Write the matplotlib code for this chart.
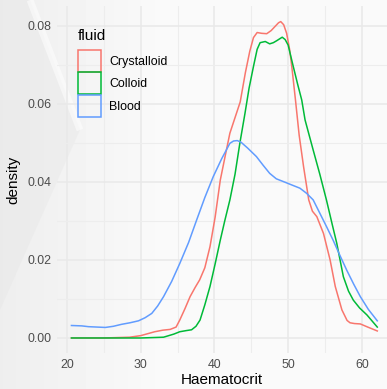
import numpy as np
import matplotlib.pyplot as plt
from matplotlib.patches import Patch, Polygon

plt.rcParams['font.family'] = ['Liberation Sans', 'DejaVu Sans']

# density curves (Haematocrit, density)
cryst_x = [20.6, 25.0, 28.5, 30.0, 31.9, 33.0, 34.0, 34.8, 35.3, 36.0, 36.7, 37.4, 38.0, 38.7,
           39.4, 40.1, 40.8, 41.5, 42.1, 42.8, 43.5, 44.2, 44.8, 45.3, 45.8, 46.4, 47.1, 47.7,
           48.2, 48.7, 49.0, 49.4, 49.8, 50.2, 50.5, 51.0, 51.5, 52.1, 52.8, 53.3, 53.9, 54.8,
           55.7, 56.4, 57.3, 58.0, 58.4, 59.0, 59.8, 60.8, 62.1]
cryst_y = [0.0, 0.0, 0.0002, 0.0006, 0.0016, 0.002, 0.0022, 0.0028, 0.0046, 0.0075, 0.0106, 0.013,
           0.0149, 0.018, 0.0234, 0.031, 0.0405, 0.047, 0.0525, 0.0565, 0.0605, 0.068, 0.0735,
           0.077, 0.0783, 0.0781, 0.078, 0.0788, 0.0798, 0.0808, 0.0811, 0.0803, 0.0781, 0.074,
           0.0696, 0.061, 0.052, 0.0439, 0.0354, 0.0325, 0.0311, 0.0268, 0.02, 0.0132, 0.0072,
           0.0045, 0.0039, 0.0037, 0.0036, 0.0028, 0.0018]

coll_x = [20.6, 30.0, 33.1, 34.5, 35.3, 36.2, 36.9, 37.5, 38.05, 38.7, 39.4, 40.1, 40.8, 41.4,
          42.1, 42.8, 43.45, 44.15, 44.7, 45.3, 45.8, 46.2, 46.9, 47.5, 48.0, 48.45, 49.2, 49.6,
          50.0, 50.7, 51.3, 51.85, 52.3, 53.4, 54.3, 55.2, 56.0, 56.6, 57.5, 58.2, 58.85, 59.7,
          60.7, 62.1]
coll_y = [0.0, 0.0, 0.0002, 0.001, 0.0016, 0.0019, 0.0021, 0.003, 0.0046, 0.0085, 0.0132, 0.019,
          0.0251, 0.03, 0.0354, 0.042, 0.0499, 0.0576, 0.064, 0.0696, 0.074, 0.0757, 0.076,
          0.0754, 0.0757, 0.0762, 0.0771, 0.0765, 0.0751, 0.0696, 0.065, 0.061, 0.0559, 0.0482,
          0.042, 0.0354, 0.029, 0.0243, 0.0157, 0.012, 0.0097, 0.0077, 0.0059, 0.0028]

blood_x = [20.6, 22.0, 22.9, 25.2, 26.3, 27.4, 28.55, 29.7, 30.6, 31.5, 32.3, 33.1, 34.2, 35.3,
           36.5, 37.6, 38.7, 39.85, 41.0, 42.1, 42.6, 43.1, 43.6, 44.5, 45.7, 46.6, 47.5, 48.4,
           49.35, 50.4, 51.6, 52.5, 53.4, 54.3, 55.2, 56.1, 57.0, 57.95, 58.9, 59.8, 60.9, 62.1]
blood_y = [0.0032, 0.0031, 0.0029, 0.0027, 0.003, 0.0035, 0.0039, 0.0044, 0.0052, 0.0063, 0.0082,
           0.0106, 0.0145, 0.0191, 0.0245, 0.0303, 0.036, 0.0414, 0.046, 0.0499, 0.0505, 0.0506,
           0.0502, 0.0487, 0.0465, 0.0443, 0.0422, 0.0408, 0.0401, 0.0393, 0.0384, 0.0371,
           0.0354, 0.032, 0.0286, 0.0251, 0.0213, 0.0174, 0.0138, 0.0106, 0.0073, 0.0044]

groups = ['Crystalloid', 'Colloid', 'Blood']
colors = ['#F8766D', '#00BA38', '#619CFF']

W, H = 387, 389
fig = plt.figure(figsize=(W / 100, H / 100), dpi=100)

# textured background: faint gray gradient on the left with a soft chevron
bg = fig.add_axes([0, 0, 1, 1], zorder=-5)
xx, yy = np.meshgrid(np.arange(W), np.arange(H))
img = 0.978 - 0.045 * np.clip(1 - xx / 160.0, 0, 1)
bg.imshow(img, cmap='gray', vmin=0, vmax=1, extent=(0, W, H, 0), aspect='auto')
bg.add_patch(Polygon([(0, 0), (30, 0), (80, 130), (0, 310)], closed=True,
                     facecolor='#e2e2e2', edgecolor='none', alpha=0.3))
bg.plot([30, 80], [0, 130], color='white', lw=5, alpha=0.5, solid_capstyle='butt')
bg.set_xlim(0, W)
bg.set_ylim(H, 0)
bg.axis('off')

ax = fig.add_axes([57 / W, 1 - 353 / H, (W - 57) / W, (353 - 6) / H])
ax.set_facecolor('none')

for xs, ys, c in zip([cryst_x, coll_x, blood_x], [cryst_y, coll_y, blood_y], colors):
    ax.plot(xs, ys, color=c, lw=1.1)

ax.set_xlim(18.64, 63.42)
ax.set_ylim(-0.00385, 0.0851)
ax.set_xticks([20, 30, 40, 50, 60])
ax.set_xticks([25, 35, 45, 55], minor=True)
ax.set_yticks([0, 0.02, 0.04, 0.06, 0.08])
ax.set_yticklabels(['0.00', '0.02', '0.04', '0.06', '0.08'])
ax.set_yticks([0.01, 0.03, 0.05, 0.07], minor=True)
ax.grid(True, which='major', color='#e9e9e9', lw=1.1)
ax.grid(True, which='minor', color='#ededed', lw=0.8)
ax.set_axisbelow(True)
ax.tick_params(which='both', length=0, labelsize=8.9, labelcolor='#4d4d4d', pad=4)
for s in ax.spines.values():
    s.set_visible(False)

ax.set_xlabel('Haematocrit', fontsize=11, labelpad=2)
ax.set_ylabel('density', fontsize=11, labelpad=5)

# legend: title as separate text, outlined keys below it
fig.text(78 / W, 1 - 36 / H, 'fluid', fontsize=11, ha='left', va='center')
handles = [Patch(facecolor='none', edgecolor=c, lw=1.1) for c in colors]
leg = ax.legend(handles, groups, loc='upper left',
                bbox_to_anchor=(78 / W, 1 - 50 / H), bbox_transform=fig.transFigure,
                frameon=False, fontsize=8.9,
                handlelength=1.85, handleheight=2.3, labelspacing=0.08,
                handletextpad=0.65, borderpad=0, borderaxespad=0)

fig.savefig('out.png', dpi=100)
